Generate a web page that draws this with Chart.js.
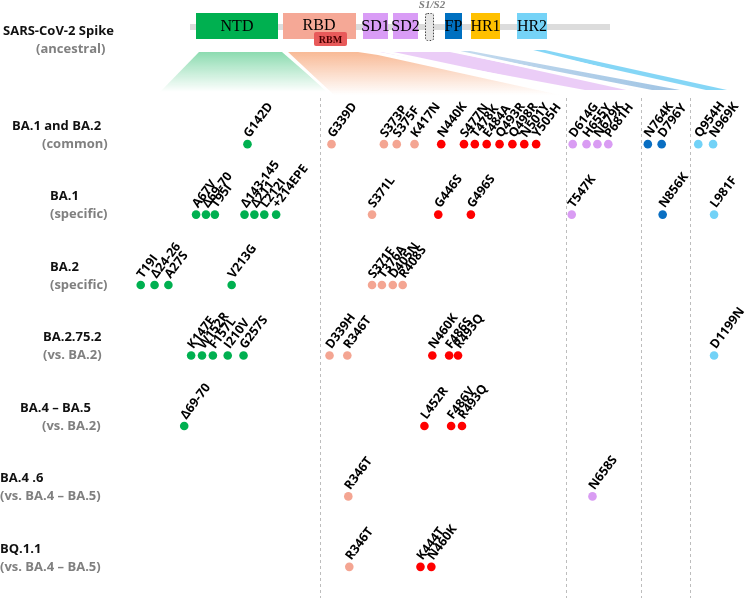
<!DOCTYPE html>
<html>
<head>
<meta charset="utf-8">
<script src="https://cdn.jsdelivr.net/npm/chart.js@4/dist/chart.umd.min.js"></script>
<style>
html,body{margin:0;padding:0;background:#fff;}
#wrap{width:750px;height:598px;position:relative;}
</style>
</head>
<body>
<div id="wrap"><canvas id="c"></canvas></div>
<script>
// ---- categories (rows) ----
const rowTitles = ["BA.1 and BA.2","BA.1","BA.2","BA.2.75.2","BA.4 \u2013 BA.5","BA.4 .6","BQ.1.1"];
const rowNotes  = ["(common)","(specific)","(specific)","(vs. BA.2)","(vs. BA.2)","(vs. BA.4 \u2013 BA.5)","(vs. BA.4 \u2013 BA.5)"];

// ---- mutations per domain: name, position along the stretched spike map, row (1..7) ----
const ntdNames = ["G142D","A67V","\u039469-70","T95I","\u0394143-145","\u0394211","L212I","+214EPE","T19I","\u039424-26","A27S","V213G","K147E","W152R","F157L","I210V","G257S","\u039469-70"];
const ntdPos   = [246,194,204,213,243,253,263,275,138,152,166,230,189,200,211,226,242,182];
const ntdRow   = [1,2,2,2,2,2,2,2,3,3,3,3,4,4,4,4,4,5];

const rbdNames = ["G339D","S373P","S375F","K417N","S371L","S371F","T376A","D405N","R408S","D339H","R346T","R346T","R346T"];
const rbdPos   = [331,384,397,415,372,372,382,393,403,329,347,348,349];
const rbdRow   = [1,1,1,1,2,3,3,3,3,4,4,6,7];

const rbmNames = ["N440K","S477N","T478K","E484A","Q493R","Q498R","N501Y","Y505H","G446S","G496S","N460K","F486S","R493Q","L452R","F486V","R493Q","K444T","N460K"];
const rbmPos   = [442,465,476,488,501,514,526,538,439,472,433,450,459,425,452,463,421,432];
const rbmRow   = [1,1,1,1,1,1,1,1,2,2,4,4,4,5,5,5,7,7];

const sdNames  = ["D614G","H655Y","N679K","P681H","T547K","N658S"];
const sdPos    = [575,589,600,611,574,595];
const sdRow    = [1,1,1,1,2,6];

const fpNames  = ["N764K","D796Y","N856K"];
const fpPos    = [651,665,666];
const fpRow    = [1,1,2];

const hr2Names = ["Q954H","N969K","L981F","D1199N"];
const hr2Pos   = [702,717,718,718];
const hr2Row   = [1,1,2,4];

// region boundaries on the map (dashed separators)
const regionBounds = [319,568,644,694];

function pts(names,pos,row){ return names.map((n,i)=>({x:pos[i],y:row[i],name:n})); }

const COLORS = {ntd:"#00b050", rbd:"#f4a592", rbm:"#ff0000", sd:"#d99cf3", fp:"#0a6fc2", hr2:"#72d2f7"};

const labelFont = "bold 12.5px 'Open Sans', 'Noto Sans', sans-serif";
const rowFont = "bold 13px 'Open Sans', 'Noto Sans', sans-serif";

const bgPlugin = {
  id:"bg",
  beforeDatasetsDraw(chart){
    const ctx = chart.ctx;
    const xs = chart.scales.x;
    ctx.save();
    let g = ctx.createLinearGradient(0,52,0,92);
    g.addColorStop(0,"rgba(0,176,80,0.45)");
    g.addColorStop(1,"rgba(0,176,80,0.0)");
    ctx.fillStyle=g;
    ctx.beginPath();ctx.moveTo(199,52);ctx.lineTo(282,52);ctx.lineTo(328,92);ctx.lineTo(160,92);ctx.closePath();ctx.fill();
    g = ctx.createLinearGradient(0,52,0,95);
    g.addColorStop(0,"rgba(244,140,80,0.6)");
    g.addColorStop(1,"rgba(244,140,80,0.0)");
    ctx.fillStyle=g;
    ctx.beginPath();ctx.moveTo(286,52);ctx.lineTo(358,52);ctx.lineTo(378,55);ctx.lineTo(560,95);ctx.lineTo(334,95);ctx.closePath();ctx.fill();
    function strip(a,b,c,d,y0,y1,col){
      ctx.fillStyle=col;
      ctx.beginPath();ctx.moveTo(a,y0);ctx.lineTo(b,y0);ctx.lineTo(d,y1);ctx.lineTo(c,y1);ctx.closePath();ctx.fill();
    }
    strip(380,450,585,637,52,90,"rgba(232,196,246,0.85)");
    g = ctx.createLinearGradient(452,0,680,0);
    g.addColorStop(0,"rgba(150,190,225,0.55)");
    g.addColorStop(1,"rgba(150,190,225,0.9)");
    strip(452,470,652,680,51,90,g);
    strip(526,545,706,727,50,90,"rgba(120,210,245,0.9)");
    ctx.strokeStyle="#fff";ctx.lineWidth=2.5;
    ctx.beginPath();ctx.moveTo(284,50);ctx.lineTo(332,95);ctx.stroke();
    ctx.beginPath();ctx.moveTo(378,50);ctx.lineTo(590,95);ctx.stroke();
    ctx.beginPath();ctx.moveTo(450,50);ctx.lineTo(655,95);ctx.stroke();
    ctx.beginPath();ctx.moveTo(524,49);ctx.lineTo(708,95);ctx.stroke();

    ctx.strokeStyle="#bdbdbd";ctx.lineWidth=1;ctx.setLineDash([3,3]);
    regionBounds.forEach(v=>{
      const px=Math.round(xs.getPixelForValue(v))+0.5;
      ctx.beginPath();ctx.moveTo(px,98);ctx.lineTo(px,598);ctx.stroke();
    });
    ctx.setLineDash([]);

    ctx.fillStyle="#dcdcdc";
    ctx.fillRect(190,24,420,6);
    function box(x0,x1,y0,y1,col,txt,font,tc){
      ctx.fillStyle=col;ctx.fillRect(x0,y0,x1-x0,y1-y0);
      if(txt){ctx.fillStyle=tc||"#000";ctx.font=font;ctx.textAlign="center";ctx.textBaseline="middle";ctx.fillText(txt,(x0+x1)/2,(y0+y1)/2+1);}
    }
    const sf="16px 'Liberation Serif', 'DejaVu Serif', serif";
    box(196,278,13,39,"#00b050","NTD",sf);
    box(283,356,13,39,"#f5a896","",sf);
    ctx.fillStyle="#000";ctx.font=sf;ctx.textAlign="center";ctx.textBaseline="middle";ctx.fillText("RBD",319,26);
    ctx.fillStyle="#e85a5a";
    ctx.beginPath();ctx.roundRect(314,32,33,14,2);ctx.fill();
    ctx.fillStyle="#4a0000";ctx.font="bold 10px 'Liberation Serif', serif";ctx.fillText("RBM",330.5,40);
    box(363,388,13,39,"#d99cf6","SD1",sf);
    box(393,418,13,39,"#d99cf6","SD2",sf);
    ctx.fillStyle="#e6e6e6";ctx.fillRect(425,13,9,27);
    ctx.strokeStyle="#444";ctx.setLineDash([1.5,1.5]);ctx.lineWidth=1;
    ctx.beginPath();ctx.roundRect(425.5,13.5,8,27,2);ctx.stroke();ctx.setLineDash([]);
    ctx.fillStyle="#7f7f7f";ctx.font="italic bold 11px 'Liberation Serif', serif";ctx.textAlign="center";ctx.textBaseline="middle";
    ctx.fillText("S1/S2",432,5);
    box(445,462,13,39,"#0070c0","FP",sf);
    box(471,500,13,39,"#ffc000","HR1",sf);
    box(517,547,13,39,"#75d3f7","HR2",sf);

    ctx.textAlign="left";ctx.textBaseline="middle";
    ctx.font=rowFont;
    ctx.fillStyle="#111";ctx.fillText("SARS-CoV-2 Spike",3,31);
    ctx.fillStyle="#808080";ctx.fillText("(ancestral)",36,49);
    const ys = chart.scales.y;
    const titleX=[12,50,50,43,20,0,0];
    const noteX=[42,50,50,43,42,0,0];
    rowTitles.forEach((t,i)=>{
      const py = ys.getPixelForValue(i+1);
      ctx.fillStyle="#111";ctx.fillText(t,titleX[i],py-18);
      ctx.fillStyle="#808080";ctx.fillText(rowNotes[i],noteX[i],py);
    });
    ctx.restore();
  },
  afterDatasetsDraw(chart){
    const ctx=chart.ctx;
    ctx.save();
    ctx.font=labelFont;ctx.fillStyle="#000";ctx.textAlign="left";ctx.textBaseline="alphabetic";
    chart.data.datasets.forEach((ds,di)=>{
      const meta=chart.getDatasetMeta(di);
      meta.data.forEach((el,i)=>{
        ctx.save();
        ctx.translate(el.x+2,el.y-6);
        ctx.rotate(-53*Math.PI/180);
        ctx.fillText(ds.data[i].name,0,0);
        ctx.restore();
      });
    });
    ctx.restore();
  }
};

function ds(label,names,pos,row,col){
  return {label,data:pts(names,pos,row),backgroundColor:col,borderColor:col,pointRadius:4.3,pointHoverRadius:4.3,borderWidth:0};
}

new Chart(document.getElementById("c"),{
  type:"scatter",
  data:{datasets:[
    ds("NTD",ntdNames,ntdPos,ntdRow,COLORS.ntd),
    ds("RBD",rbdNames,rbdPos,rbdRow,COLORS.rbd),
    ds("RBM",rbmNames,rbmPos,rbmRow,COLORS.rbm),
    ds("SD",sdNames,sdPos,sdRow,COLORS.sd),
    ds("FP",fpNames,fpPos,fpRow,COLORS.fp),
    ds("HR2",hr2Names,hr2Pos,hr2Row,COLORS.hr2)
  ]},
  options:{
    responsive:true,maintainAspectRatio:false,animation:false,
    layout:{padding:0},
    plugins:{legend:{display:false},tooltip:{enabled:false}},
    scales:{
      x:{type:"linear",min:0,max:750,display:false},
      y:{type:"linear",min:-0.985,max:7.381,reverse:true,display:false}
    }
  },
  plugins:[bgPlugin]
});
</script>
</body>
</html>
